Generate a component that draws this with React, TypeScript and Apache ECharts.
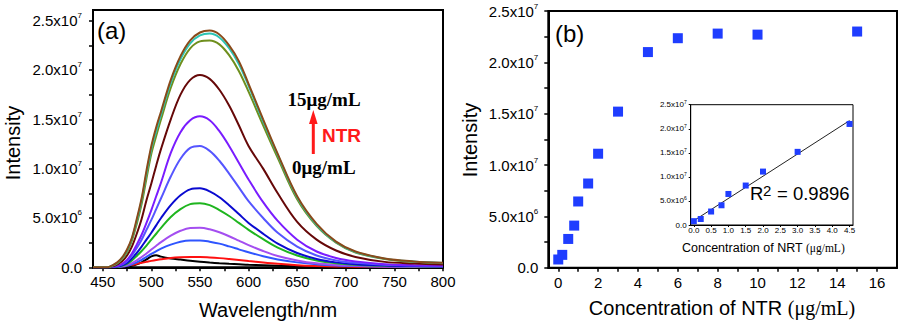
import React, { useEffect, useRef } from "react";
import * as echarts from "echarts";

// ---------- Panel (a): emission spectra (intensity in units of 1e6) ----------
const wavelengths = [440, 455, 460, 465, 470, 475, 480, 485, 490, 495, 500, 505, 510, 520, 530, 540, 550, 560, 570, 580, 590, 600, 615, 630, 650, 670, 690, 710, 740, 770, 800];

const curveBlack = [0, 0, 0, 0.01, 0.03, 0.07, 0.15, 0.3, 0.5, 0.8, 1.1, 1.22, 1.08, 0.9, 0.78, 0.66, 0.56, 0.48, 0.41, 0.35, 0.3, 0.25, 0.2, 0.15, 0.11, 0.08, 0.06, 0.05, 0.04, 0.03, 0.03];
const curveRed = [0, 0, 0.02, 0.05, 0.1, 0.17, 0.25, 0.35, 0.45, 0.55, 0.65, 0.74, 0.82, 0.95, 1.02, 1.05, 1.05, 1.0, 0.93, 0.84, 0.74, 0.63, 0.48, 0.35, 0.22, 0.14, 0.09, 0.06, 0.04, 0.03, 0.03];
const curveBlue = [0, 0, 0.01, 0.03, 0.07, 0.15, 0.3, 0.5, 0.75, 1.05, 1.35, 1.63, 1.9, 2.3, 2.6, 2.72, 2.72, 2.6, 2.4, 2.12, 1.82, 1.52, 1.12, 0.8, 0.5, 0.3, 0.18, 0.12, 0.07, 0.05, 0.04];
const curvePurple = [0, 0, 0.01, 0.04, 0.1, 0.22, 0.42, 0.7, 1.05, 1.4, 1.8, 2.18, 2.55, 3.2, 3.7, 3.98, 4.0, 3.85, 3.55, 3.15, 2.7, 2.25, 1.65, 1.15, 0.7, 0.4, 0.24, 0.16, 0.09, 0.06, 0.05];
const curveGreen = [0, 0, 0.02, 0.06, 0.15, 0.35, 0.7, 1.15, 1.65, 2.2, 2.8, 3.4, 4.0, 5.1, 5.9, 6.4, 6.5, 6.3, 5.8, 5.2, 4.5, 3.8, 2.85, 2.0, 1.2, 0.7, 0.42, 0.27, 0.15, 0.1, 0.08];
const curveDarkBlue = [0, 0, 0.03, 0.08, 0.2, 0.45, 0.9, 1.45, 2.1, 2.8, 3.5, 4.25, 5.0, 6.3, 7.3, 7.9, 8.0, 7.7, 7.1, 6.3, 5.4, 4.5, 3.4, 2.4, 1.45, 0.85, 0.5, 0.32, 0.18, 0.12, 0.09];
const curveBlueViolet = [0, 0, 0.04, 0.12, 0.3, 0.6, 1.2, 1.95, 2.8, 3.8, 4.8, 5.9, 7.0, 9.2, 11.0, 12.1, 12.3, 11.8, 10.8, 9.5, 8.1, 6.7, 5.0, 3.5, 2.1, 1.2, 0.7, 0.45, 0.25, 0.17, 0.12];
const curveViolet = [0, 0, 0.05, 0.15, 0.35, 0.75, 1.4, 2.3, 3.3, 4.5, 5.8, 7.2, 8.6, 11.6, 13.7, 14.9, 15.3, 14.9, 13.8, 12.3, 10.6, 8.9, 6.6, 4.7, 2.8, 1.6, 0.95, 0.6, 0.32, 0.22, 0.16];
const curveMaroon = [0, 0, 0.1, 0.3, 0.6, 1.2, 2.1, 3.4, 4.9, 6.8, 8.5, 10.3, 12.0, 15.0, 17.5, 19.0, 19.5, 19.1, 18.0, 16.4, 14.4, 12.3, 10.0, 7.5, 4.6, 2.8, 1.7, 1.05, 0.55, 0.38, 0.28];
const curveOlive = [0, 0, 0.15, 0.4, 0.85, 1.55, 2.7, 4.4, 6.4, 9.0, 11.5, 13.3, 15.0, 18.2, 20.6, 22.2, 22.9, 23.0, 22.6, 21.5, 19.9, 17.8, 14.4, 11.1, 6.9, 4.2, 2.5, 1.5, 0.85, 0.55, 0.42];
const curveTeal = [0, 0, 0.18, 0.45, 0.95, 1.7, 2.9, 4.7, 6.8, 9.5, 12.0, 13.8, 15.5, 18.7, 21.1, 22.7, 23.5, 23.7, 23.3, 22.2, 20.6, 18.4, 14.8, 11.4, 7.1, 4.3, 2.55, 1.55, 0.88, 0.58, 0.43];
const curveBrown = [0, 0, 0.2, 0.5, 1.0, 1.8, 3.0, 4.9, 7.0, 9.8, 12.3, 14.2, 15.8, 19.0, 21.4, 23.0, 23.8, 24.0, 23.6, 22.5, 20.9, 18.6, 15.0, 11.5, 7.2, 4.4, 2.6, 1.6, 0.9, 0.6, 0.45];

const spectra = [curveBlack, curveRed, curveBlue, curvePurple, curveGreen, curveDarkBlue, curveBlueViolet, curveViolet, curveMaroon, curveOlive, curveTeal, curveBrown];
const spectraColors = ["#000000", "#ff1010", "#2f55ff", "#a44ef0", "#1fb51f", "#0a0ad0", "#5555ff", "#7a1cff", "#660808", "#6f8f1e", "#2cc4b4", "#8a4a1a"];

const waveLabelValues = [450, 500, 550, 600, 650, 700, 750, 800];
const waveTickValues = [450, 475, 500, 525, 550, 575, 600, 625, 650, 675, 700, 725, 750, 775, 800];

// ---------- Panel (b): intensity vs concentration ----------
const concentrations = [0, 0.2, 0.5, 0.8, 1, 1.5, 2, 3, 4.5, 6, 8, 10, 15];
const intensities = [0.8, 1.25, 2.8, 4.1, 6.45, 8.2, 11.1, 15.2, 21.0, 22.35, 22.8, 22.7, 23.0];
const concLabelValues = [0, 2, 4, 6, 8, 10, 12, 14, 16];
const concTickValues = [0, 1, 2, 3, 4, 5, 6, 7, 8, 9, 10, 11, 12, 13, 14, 15, 16];

// inset (linear range)
const insetConc = [0, 0.2, 0.5, 0.8, 1, 1.5, 2, 3, 4.5];
const insetInt = [0.8, 1.25, 2.8, 4.1, 6.45, 8.2, 11.1, 15.2, 21.0];
const fitLine = [[0, 0.9], [4.5, 21.7]];
const insetXLabelValues = [0, 0.5, 1, 1.5, 2, 2.5, 3, 3.5, 4, 4.5];
const insetXLabels = ["0.0", "0.5", "1.0", "1.5", "2.0", "2.5", "3.0", "3.5", "4.0", "4.5"];

// shared y tick labels (values in 1e6)
const yTickValues = [0, 5, 10, 15, 20, 25];
const yTickMantissas = ["0.0", "5.0", "1.0", "1.5", "2.0", "2.5"];
const yTickExponents = ["", "6", "7", "7", "7", "7"];
const yMinorTickValues = [0, 2.5, 5, 7.5, 10, 12.5, 15, 17.5, 20, 22.5, 25];

const SANS = "Liberation Sans, Arial, sans-serif";
const SERIF = "Liberation Serif, Times New Roman, serif";
const MARKER_BLUE = "#1f3dff";

function yFormatter(v: number) {
  const i = yTickValues.findIndex((t) => Math.abs(t - v) < 1e-6);
  if (i < 0) return "";
  const e = yTickExponents[i];
  return e ? `${yTickMantissas[i]}x10{s|${e}}` : yTickMantissas[i];
}

function axisBase(lineW: number) {
  return {
    axisLine: { show: true, onZero: false, lineStyle: { color: "#000", width: lineW } },
    splitLine: { show: false },
    minorTick: { show: false },
  };
}

export default function App() {
  const ref = useRef<HTMLDivElement>(null);

  useEffect(() => {
    const chart = echarts.init(ref.current!, null, { renderer: "svg" });

    const lineSeries = spectra.map((vals, k) => ({
      type: "line",
      xAxisIndex: 0,
      yAxisIndex: 0,
      data: wavelengths.map((w, i) => [w, vals[i]]),
      smooth: 0.35,
      showSymbol: false,
      symbol: "none",
      lineStyle: { color: spectraColors[k], width: 2 },
      z: 2 + k,
    }));

    const option: any = {
      animation: false,
      backgroundColor: "#fff",
      textStyle: { fontFamily: SANS },
      grid: [
        { left: 93, top: 10, width: 350, height: 257.3, show: true, borderColor: "#000", borderWidth: 2, containLabel: false, outerBoundsMode: "none" },
        { left: 548.3, top: 11, width: 348.7, height: 256.7, show: true, borderColor: "#000", borderWidth: 2, containLabel: false, outerBoundsMode: "none" },
        { left: 690.7, top: 104.7, width: 162.3, height: 120.3, show: true, borderColor: "#000", borderWidth: 1, backgroundColor: "#fff", containLabel: false, outerBoundsMode: "none", z: 5 },
      ],
      xAxis: [
        {
          gridIndex: 0, type: "value", min: 440, max: 800, ...axisBase(2),
          axisTick: { show: true, length: 4, customValues: waveTickValues, lineStyle: { color: "#000", width: 1.5 } },
          axisLabel: { customValues: waveLabelValues, fontSize: 15, color: "#000", margin: 7, fontFamily: SANS },
        },
        {
          gridIndex: 1, type: "value", min: -0.5, max: 17, ...axisBase(2),
          axisTick: { show: true, length: 4, customValues: concTickValues, lineStyle: { color: "#000", width: 1.5 } },
          axisLabel: { customValues: concLabelValues, fontSize: 15, color: "#000", margin: 7, fontFamily: SANS },
        },
        {
          gridIndex: 2, type: "value", min: -0.09, max: 4.6, ...axisBase(1),
          axisTick: { show: true, length: 2, customValues: insetXLabelValues, lineStyle: { color: "#000", width: 1 } },
          axisLabel: {
            customValues: insetXLabelValues, fontSize: 8, color: "#000", margin: 1, fontFamily: SANS,
            formatter: (v: number) => {
              const i = insetXLabelValues.findIndex((t) => Math.abs(t - v) < 1e-6);
              return i < 0 ? "" : insetXLabels[i];
            },
          },
          z: 6,
        },
      ],
      yAxis: [
        {
          gridIndex: 0, type: "value", min: 0, max: 26.08, ...axisBase(2),
          axisTick: { show: true, length: 4, customValues: yMinorTickValues, lineStyle: { color: "#000", width: 1.5 } },
          axisLabel: {
            customValues: yTickValues, fontSize: 15, color: "#000", margin: 11, fontFamily: SANS, lineHeight: 18,
            formatter: yFormatter,
            rich: { s: { fontSize: 8, verticalAlign: "top", fontFamily: SANS, color: "#000" } },
          },
        },
        {
          gridIndex: 1, type: "value", min: 0, max: 25, ...axisBase(2),
          axisTick: { show: true, length: 4, customValues: yMinorTickValues, lineStyle: { color: "#000", width: 1.5 } },
          axisLabel: {
            customValues: yTickValues, fontSize: 15, color: "#000", margin: 10, fontFamily: SANS, lineHeight: 18,
            formatter: yFormatter,
            rich: { s: { fontSize: 8, verticalAlign: "top", fontFamily: SANS, color: "#000" } },
          },
        },
        {
          gridIndex: 2, type: "value", min: 0, max: 25, ...axisBase(1),
          axisTick: { show: true, length: 2, customValues: yTickValues, lineStyle: { color: "#000", width: 1 } },
          axisLabel: {
            customValues: yTickValues, fontSize: 8, color: "#000", margin: 4, fontFamily: SANS, lineHeight: 10,
            formatter: yFormatter,
            rich: { s: { fontSize: 5, verticalAlign: "top", fontFamily: SANS, color: "#000" } },
          },
          z: 6,
        },
      ],
      series: [
        ...lineSeries,
        {
          type: "scatter", xAxisIndex: 1, yAxisIndex: 1,
          data: concentrations.map((c, i) => [c, intensities[i]]),
          symbol: "rect", symbolSize: 10,
          itemStyle: { color: MARKER_BLUE, opacity: 1 },
          z: 3,
        },
        {
          type: "line", xAxisIndex: 2, yAxisIndex: 2,
          data: fitLine, showSymbol: false, symbol: "none",
          lineStyle: { color: "#222", width: 1 },
          z: 7,
        },
        {
          type: "scatter", xAxisIndex: 2, yAxisIndex: 2,
          data: insetConc.map((c, i) => [c, insetInt[i]]),
          symbol: "rect", symbolSize: 6,
          itemStyle: { color: MARKER_BLUE, opacity: 1 },
          z: 8,
        },
      ],
      graphic: [
        { type: "text", x: 97, y: 30, z: 20, style: { text: "(a)", fontSize: 24, fontFamily: SANS, fill: "#000", align: "left", verticalAlign: "middle" } },
        { type: "text", x: 555, y: 33, z: 20, style: { text: "(b)", fontSize: 24, fontFamily: SANS, fill: "#000", align: "left", verticalAlign: "middle" } },
        { type: "text", x: 287.5, y: 99.6, z: 20, style: { text: "15μg/mL", fontSize: 19, fontWeight: "bold", fontFamily: SERIF, fill: "#000", align: "left", verticalAlign: "middle" } },
        { type: "text", x: 292, y: 167.6, z: 20, style: { text: "0μg/mL", fontSize: 19, fontWeight: "bold", fontFamily: SERIF, fill: "#000", align: "left", verticalAlign: "middle" } },
        { type: "text", x: 322, y: 135.5, z: 20, style: { text: "NTR", fontSize: 19, fontWeight: "bold", fontFamily: SANS, fill: "#ff1a1a", align: "left", verticalAlign: "middle" } },
        { type: "line", z: 20, shape: { x1: 313.3, y1: 154, x2: 313.3, y2: 121 }, style: { stroke: "#ff1a1a", lineWidth: 3 } },
        { type: "polygon", z: 20, shape: { points: [[313.3, 110], [309, 124], [317.6, 124]] }, style: { fill: "#ff1a1a" } },
        { type: "text", x: 13, y: 143, rotation: Math.PI / 2, z: 20, style: { text: "Intensity", fontSize: 20, fontFamily: SANS, fill: "#000", align: "center", verticalAlign: "middle" } },
        { type: "text", x: 470, y: 140, rotation: Math.PI / 2, z: 20, style: { text: "Intensity", fontSize: 20, fontFamily: SANS, fill: "#000", align: "center", verticalAlign: "middle" } },
        { type: "text", x: 268, y: 310, z: 20, style: { text: "Wavelength/nm", fontSize: 20, fontFamily: SANS, fill: "#000", align: "center", verticalAlign: "middle" } },
        {
          type: "text", x: 722, y: 308, z: 20,
          style: {
            text: "{a|Concentration of NTR }{b|(μg/mL)}", align: "center", verticalAlign: "middle",
            rich: { a: { fontSize: 20, fontFamily: SANS, fill: "#000" }, b: { fontSize: 20, fontFamily: SERIF, fill: "#000" } },
          },
        },
        {
          type: "text", x: 763.3, y: 248, z: 20,
          style: {
            text: "{a|Concentration of NRT }{b|(μg/mL)}", align: "center", verticalAlign: "middle",
            rich: { a: { fontSize: 12.5, fontFamily: SANS, fill: "#000" }, b: { fontSize: 11.5, fontFamily: SERIF, fill: "#000" } },
          },
        },
        { type: "text", x: 750, y: 193.5, z: 20, style: { text: "R", fontSize: 18.5, fontFamily: SANS, fill: "#000", align: "left", verticalAlign: "middle" } },
        { type: "text", x: 763, y: 190.5, z: 20, style: { text: "2", fontSize: 15, fontFamily: SANS, fill: "#000", align: "left", verticalAlign: "middle" } },
        { type: "text", x: 777, y: 193.5, z: 20, style: { text: "= 0.9896", fontSize: 18.5, fontFamily: SANS, fill: "#000", align: "left", verticalAlign: "middle" } },
      ],
    };

    chart.setOption(option);
    return () => chart.dispose();
  }, []);

  return (
    <div
      ref={ref}
      style={{ position: "absolute", left: 0, top: 0, width: 902, height: 324, background: "#fff" }}
    />
  );
}
